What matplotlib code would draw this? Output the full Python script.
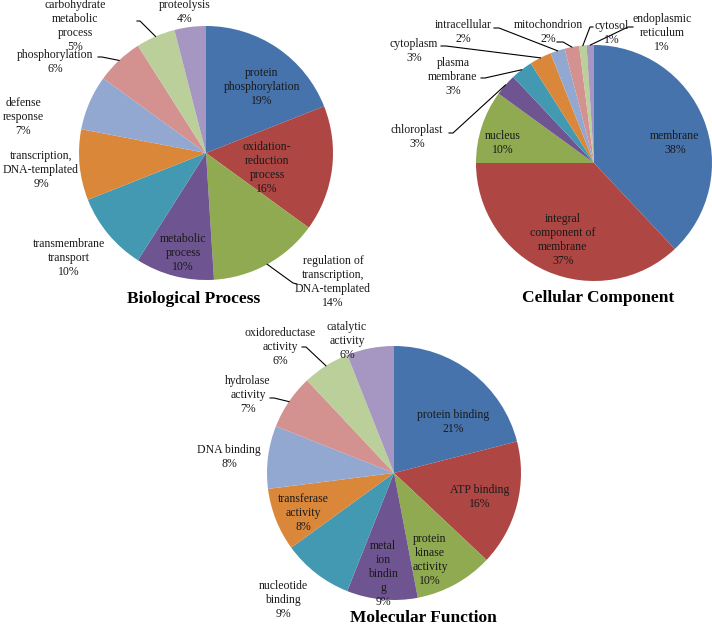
import numpy as np
import matplotlib.pyplot as plt

W, H = 712, 626
colors = ['#4673AC', '#AE4643', '#8FAA50', '#6E5490', '#4299B1',
          '#DB8739', '#92A8D1', '#D39290', '#BACF99', '#A697C2']

# Biological Process
bp_labels = ['protein\nphosphorylation', 'oxidation-\nreduction\nprocess',
             'regulation of\ntranscription,\nDNA-templated', 'metabolic\nprocess',
             'transmembrane\ntransport', 'transcription,\nDNA-templated',
             'defense\nresponse', 'phosphorylation',
             'carbohydrate\nmetabolic\nprocess', 'proteolysis']
bp_values = [19, 16, 14, 10, 10, 9, 7, 6, 5, 4]

# Cellular Component
cc_labels = ['membrane', 'integral\ncomponent of\nmembrane', 'nucleus', 'chloroplast',
             'plasma\nmembrane', 'cytoplasm', 'intracellular', 'mitochondrion',
             'cytosol', 'endoplasmic\nreticulum']
cc_values = [38, 37, 10, 3, 3, 3, 2, 2, 1, 1]

# Molecular Function
mf_labels = ['protein binding', 'ATP binding', 'protein\nkinase\nactivity',
             'metal\nion\nbindin\ng', 'nucleotide\nbinding', 'transferase\nactivity',
             'DNA binding', 'hydrolase\nactivity', 'oxidoreductase\nactivity',
             'catalytic\nactivity']
mf_values = [21, 16, 10, 9, 9, 8, 8, 7, 6, 6]

# layout (pixel coords, y down)
bp_text = [(262, 87), (267, 168), (333, 282), (183, 253), (69, 258), (41, 170),
           (23, 117), (55, 62), (75, 26), (185, 12)]
bp_lead = {2: [(297, 284), (293, 283)], 7: [(98, 57), (102, 57)],
           8: [(137, 21), (140, 21)]}
cc_text = [(675, 143), (563, 240), (503, 143), (417, 137), (453, 77), (414, 51),
           (463, 32), (548, 32), (612, 33), (662, 33)]
cc_lead = {3: [(449, 133), (453, 133)], 4: [(481, 78), (485, 78)],
           5: [(441, 46), (446, 46)], 6: [(494, 28), (499, 28)],
           7: [(557, 42), (563, 42)], 8: [(593, 27), (590, 27)],
           9: [(633, 27), (628, 27)]}
mf_text = [(453, 422), (480, 497), (430, 560), (383, 574), (283, 600), (303, 513),
           (229, 457), (248, 395), (280, 347), (347, 341)]
mf_lead = {7: [(270, 398), (274, 398)], 8: [(302, 347), (306, 347)]}

plt.rcParams['font.family'] = ['Liberation Serif', 'DejaVu Serif']
fig = plt.figure(figsize=(7.12, 6.26), dpi=100)
ax = fig.add_axes([0, 0, 1, 1])


def draw_pie(values, labels, center, radius, text_pos, leaders, title, title_pos):
    cx, cy = center
    wedges, _ = ax.pie(values, colors=colors, startangle=90, counterclock=False,
                       center=(cx, H - cy), radius=radius,
                       wedgeprops=dict(linewidth=0))
    for i, (w, lab, v) in enumerate(zip(wedges, labels, values)):
        tx, ty = text_pos[i]
        ax.text(tx, H - ty, f"{lab}\n{v}%", ha='center', va='center',
                fontsize=8.5, linespacing=1.2, color='#1a1a1a')
        if i in leaders:
            mid = np.deg2rad((w.theta1 + w.theta2) / 2)
            ex = cx + radius * np.cos(mid)
            ey = H - cy + radius * np.sin(mid)
            pts = [(x, H - y) for x, y in leaders[i]] + [(ex, ey)]
            xs, ys = zip(*pts)
            ax.plot(xs, ys, color='black', lw=0.8)
    ax.text(title_pos[0], H - title_pos[1], title, ha='center', va='center',
            fontsize=12.5, fontweight='bold')


draw_pie(bp_values, bp_labels, (206, 153), 127, bp_text, bp_lead,
         'Biological Process', (194, 299))
draw_pie(cc_values, cc_labels, (594, 163), 118, cc_text, cc_lead,
         'Cellular Component', (598, 298))
draw_pie(mf_values, mf_labels, (394, 473), 127, mf_text, mf_lead,
         'Molecular Function', (423, 618))

ax.set_xlim(0, W)
ax.set_ylim(0, H)
ax.axis('off')
fig.savefig('out.png', dpi=100)
